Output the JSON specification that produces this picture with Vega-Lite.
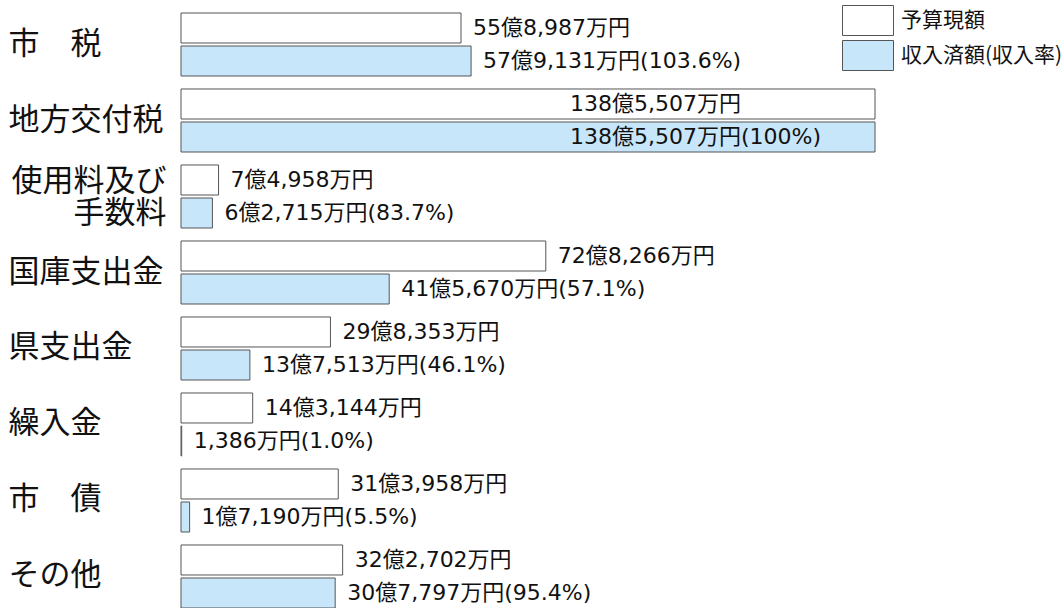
{
  "$schema": "https://vega.github.io/schema/vega-lite/v6.json",
  "width": 883,
  "height": 595,
  "padding": {"left": 181, "top": 13, "right": 0, "bottom": 0},
  "autosize": {"type": "none"},
  "background": "white",
  "config": {"view": {"stroke": null}},
  "data": {
    "values": [
      {"category": "市　税", "series": "予算現額", "value": 558987, "label": "55億8,987万円"},
      {"category": "市　税", "series": "収入済額(収入率)", "value": 579131, "label": "57億9,131万円(103.6%)"},
      {"category": "地方交付税", "series": "予算現額", "value": 1385507, "label": "138億5,507万円"},
      {"category": "地方交付税", "series": "収入済額(収入率)", "value": 1385507, "label": "138億5,507万円(100%)"},
      {"category": "使用料及び手数料", "series": "予算現額", "value": 74958, "label": "7億4,958万円"},
      {"category": "使用料及び手数料", "series": "収入済額(収入率)", "value": 62715, "label": "6億2,715万円(83.7%)"},
      {"category": "国庫支出金", "series": "予算現額", "value": 728266, "label": "72億8,266万円"},
      {"category": "国庫支出金", "series": "収入済額(収入率)", "value": 415670, "label": "41億5,670万円(57.1%)"},
      {"category": "県支出金", "series": "予算現額", "value": 298353, "label": "29億8,353万円"},
      {"category": "県支出金", "series": "収入済額(収入率)", "value": 137513, "label": "13億7,513万円(46.1%)"},
      {"category": "繰入金", "series": "予算現額", "value": 143144, "label": "14億3,144万円"},
      {"category": "繰入金", "series": "収入済額(収入率)", "value": 1386, "label": "1,386万円(1.0%)"},
      {"category": "市　債", "series": "予算現額", "value": 313958, "label": "31億3,958万円"},
      {"category": "市　債", "series": "収入済額(収入率)", "value": 17190, "label": "1億7,190万円(5.5%)"},
      {"category": "その他", "series": "予算現額", "value": 322702, "label": "32億2,702万円"},
      {"category": "その他", "series": "収入済額(収入率)", "value": 307797, "label": "30億7,797万円(95.4%)"}
    ]
  },
  "encoding": {
    "y": {
      "field": "category",
      "type": "nominal",
      "sort": ["市　税", "地方交付税", "使用料及び手数料", "国庫支出金", "県支出金", "繰入金", "市　債", "その他"],
      "scale": {"paddingInner": 0.171, "paddingOuter": 0},
      "axis": {
        "title": null,
        "domain": false,
        "ticks": false,
        "labelAlign": {"condition": {"test": "datum.value == '使用料及び手数料'", "value": "right"}, "value": "left"},
        "labelBaseline": "middle",
        "labelPadding": {"condition": {"test": "datum.value == '使用料及び手数料'", "value": 15}, "value": 173},
        "labelOffset": {"condition": {"test": "datum.value == '使用料及び手数料'", "value": -15}, "value": 0},
        "labelFont": "Noto Sans CJK JP",
        "labelFontSize": 31,
        "labelColor": "#111",
        "labelLimit": 0,
        "labelLineHeight": 32,
        "labelExpr": "datum.value == '使用料及び手数料' ? ['使用料及び', '手数料'] : datum.value"
      }
    },
    "yOffset": {
      "field": "series",
      "type": "nominal",
      "sort": ["予算現額", "収入済額(収入率)"],
      "scale": {"paddingInner": 0.0909, "paddingOuter": 0}
    },
    "x": {
      "field": "value",
      "type": "quantitative",
      "scale": {"domain": [0, 1762800], "nice": false, "zero": true},
      "axis": null
    }
  },
  "layer": [
    {
      "mark": {"type": "bar", "stroke": "#555", "strokeWidth": 1},
      "encoding": {
        "fill": {
          "field": "series",
          "type": "nominal",
          "scale": {"domain": ["予算現額", "収入済額(収入率)"], "range": ["#ffffff", "#c8e6f9"]},
          "legend": {
            "title": null,
            "orient": "none",
            "legendX": 671.5,
            "legendY": -8,
            "padding": 0,
            "symbolType": "M-1.7,-1H1.7V1H-1.7Z",
            "symbolSize": 900,
            "symbolStrokeColor": "#555",
            "symbolStrokeWidth": 1,
            "symbolOpacity": 1,
            "labelOffset": 17.5,
            "labelFont": "Noto Sans CJK JP",
            "labelFontSize": 21,
            "labelColor": "#111",
            "labelLimit": 0,
            "rowPadding": 0
          }
        }
      }
    },
    {
      "transform": [{"filter": "datum.value < 1000000"}],
      "mark": {"type": "text", "align": "left", "baseline": "middle", "dx": 12, "font": "DejaVu Sans, Noto Sans CJK JP", "fontSize": 22, "color": "#111"},
      "encoding": {"text": {"field": "label"}}
    },
    {
      "transform": [{"filter": "datum.value >= 1000000"}],
      "mark": {"type": "text", "align": "left", "baseline": "middle", "dx": -305, "font": "DejaVu Sans, Noto Sans CJK JP", "fontSize": 22, "color": "#111"},
      "encoding": {"text": {"field": "label"}}
    }
  ]
}
